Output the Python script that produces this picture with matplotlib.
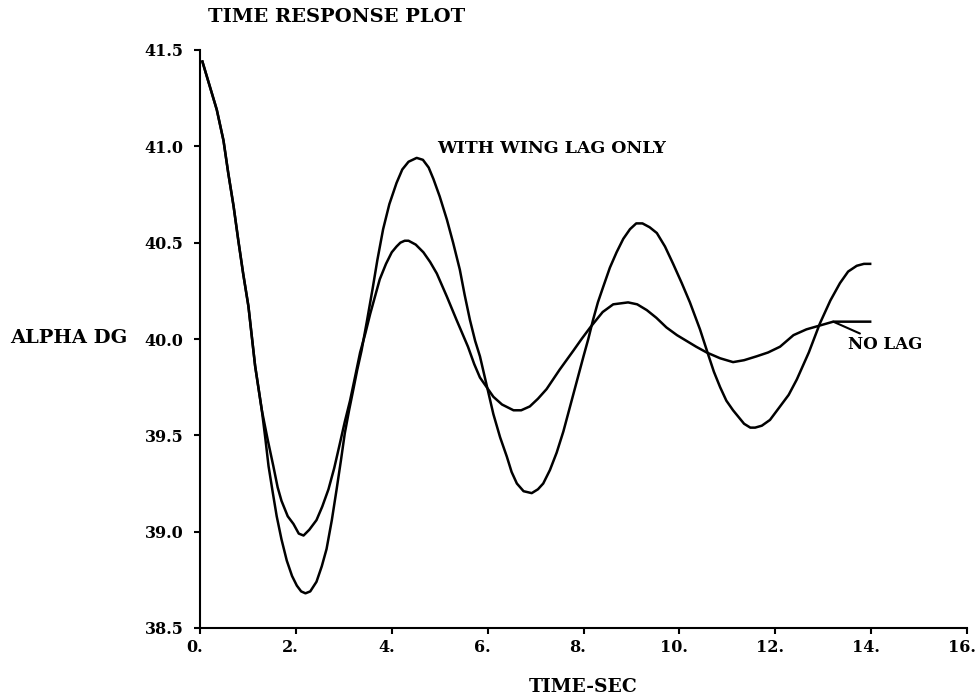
import matplotlib
matplotlib.use("Agg")
import matplotlib.pyplot as plt
import matplotlib.transforms as mtransforms

# angle of attack response, with wing lag only
wing_t = [0.05, 0.17, 0.35, 0.49, 0.59, 0.70, 0.80, 0.90, 1.01, 1.15, 1.29, 1.36,
          1.43, 1.52, 1.60, 1.70, 1.81, 1.92, 2.02, 2.11, 2.20, 2.30, 2.43, 2.54,
          2.64, 2.75, 2.85, 2.94, 3.02, 3.11, 3.20, 3.28, 3.37, 3.48, 3.60, 3.70,
          3.82, 3.95, 4.10, 4.22, 4.35, 4.52, 4.65, 4.77, 4.87, 5.00, 5.15, 5.28,
          5.42, 5.52, 5.63, 5.74, 5.84, 5.98, 6.12, 6.26, 6.40, 6.50, 6.61, 6.75,
          6.92, 7.05, 7.16, 7.30, 7.44, 7.58, 7.72, 7.86, 8.00, 8.10, 8.20, 8.30,
          8.41, 8.55, 8.69, 8.83, 8.97, 9.10, 9.23, 9.38, 9.53, 9.70, 9.87, 10.05,
          10.22, 10.43, 10.60, 10.72, 10.85, 10.98, 11.12, 11.35, 11.48, 11.58,
          11.72, 11.89, 12.10, 12.28, 12.45, 12.70, 12.93, 13.15, 13.35, 13.52,
          13.70, 13.85, 13.98]
wing_alpha = [41.44, 41.34, 41.19, 41.03, 40.86, 40.69, 40.51, 40.34, 40.17, 39.86,
              39.63, 39.49, 39.34, 39.20, 39.08, 38.96, 38.85, 38.77, 38.72, 38.69,
              38.68, 38.69, 38.74, 38.82, 38.91, 39.06, 39.22, 39.37, 39.51, 39.63,
              39.74, 39.84, 39.94, 40.09, 40.26, 40.41, 40.57, 40.70, 40.81, 40.88,
              40.92, 40.94, 40.93, 40.89, 40.83, 40.74, 40.62, 40.50, 40.36, 40.23,
              40.10, 39.99, 39.91, 39.76, 39.61, 39.49, 39.39, 39.31, 39.25, 39.21,
              39.20, 39.22, 39.25, 39.32, 39.41, 39.52, 39.65, 39.78, 39.91, 40.00,
              40.10, 40.19, 40.27, 40.37, 40.45, 40.52, 40.57, 40.60, 40.60, 40.58,
              40.55, 40.48, 40.39, 40.29, 40.19, 40.05, 39.92, 39.83, 39.75, 39.68,
              39.63, 39.56, 39.54, 39.54, 39.55, 39.58, 39.65, 39.71, 39.79, 39.93,
              40.08, 40.20, 40.29, 40.35, 40.38, 40.39, 40.39]

# angle of attack response, no lag
nolag_t = [0.05, 0.17, 0.35, 0.49, 0.59, 0.70, 0.80, 0.90, 1.01, 1.15, 1.29, 1.41,
           1.53, 1.62, 1.70, 1.83, 1.95, 2.06, 2.16, 2.28, 2.43, 2.55, 2.68, 2.80,
           2.92, 3.02, 3.13, 3.24, 3.34, 3.45, 3.55, 3.65, 3.75, 3.88, 4.00, 4.10,
           4.18, 4.27, 4.35, 4.50, 4.66, 4.80, 4.94, 5.15, 5.35, 5.47, 5.59, 5.72,
           5.84, 5.98, 6.12, 6.30, 6.54, 6.70, 6.88, 7.05, 7.23, 7.50, 7.79, 7.96,
           8.14, 8.40, 8.62, 8.93, 9.12, 9.32, 9.52, 9.73, 9.95, 10.15, 10.35, 10.57,
           10.85, 11.12, 11.35, 11.61, 11.85, 12.10, 12.38, 12.65, 12.93, 13.21,
           13.60, 13.98]
nolag_alpha = [41.44, 41.34, 41.19, 41.03, 40.86, 40.69, 40.51, 40.34, 40.17, 39.86,
               39.63, 39.48, 39.34, 39.23, 39.16, 39.08, 39.04, 38.99, 38.98, 39.01,
               39.06, 39.13, 39.22, 39.33, 39.46, 39.57, 39.68, 39.81, 39.93, 40.03,
               40.13, 40.22, 40.31, 40.39, 40.45, 40.48, 40.50, 40.51, 40.51, 40.49,
               40.45, 40.40, 40.34, 40.22, 40.10, 40.03, 39.96, 39.87, 39.80, 39.75,
               39.70, 39.66, 39.63, 39.63, 39.65, 39.69, 39.74, 39.84, 39.94, 40.00,
               40.06, 40.14, 40.18, 40.19, 40.18, 40.15, 40.11, 40.06, 40.02, 39.99,
               39.96, 39.93, 39.90, 39.88, 39.89, 39.91, 39.93, 39.96, 40.02, 40.05,
               40.07, 40.09, 40.09, 40.09]

x_ticks = [0, 2, 4, 6, 8, 10, 12, 14, 16]
x_labels = ["0.", "2.", "4.", "6.", "8.", "10.", "12.", "14.", "16."]
y_ticks = [38.5, 39.0, 39.5, 40.0, 40.5, 41.0, 41.5]
y_labels = ["38.5", "39.0", "39.5", "40.0", "40.5", "41.0", "41.5"]

plt.rcParams['font.family'] = 'DejaVu Serif'
plt.rcParams['font.weight'] = 'bold'

fig = plt.figure(figsize=(9.8, 7.0), dpi=100)
ax = fig.add_axes([200 / 980, 1 - 628 / 700, 767 / 980, 578 / 700])

ax.plot(wing_t, wing_alpha, color='black', lw=1.8, solid_joinstyle='round')
ax.plot(nolag_t, nolag_alpha, color='black', lw=1.8, solid_joinstyle='round')

ax.set_xlim(0, 16)
ax.set_ylim(38.5, 41.5)
ax.spines['top'].set_visible(False)
ax.spines['right'].set_visible(False)
for s in ('left', 'bottom'):
    ax.spines[s].set_linewidth(1.5)

ax.set_xticks(x_ticks)
ax.set_xticklabels(x_labels, fontsize=11.5, fontweight='bold')
ax.set_yticks(y_ticks)
ax.set_yticklabels(y_labels, fontsize=11.5, fontweight='bold')
ax.tick_params(axis='x', direction='out', length=4, width=1.5, pad=4)
ax.tick_params(axis='y', direction='out', length=4, width=1.5, pad=8)

# the numbers sit on the tick, the trailing dot hangs to the right
shift = mtransforms.ScaledTranslation(-4 / 72, 0, fig.dpi_scale_trans)
for lbl in ax.get_xticklabels():
    lbl.set_transform(lbl.get_transform() + shift)

ax.set_xlabel("TIME-SEC", fontsize=13.5, fontweight='bold', labelpad=16)

fig.text(208 / 980, 1 - 17 / 700, "TIME RESPONSE PLOT", fontsize=14,
         fontweight='bold', ha='left', va='center')
fig.text(10 / 980, 1 - 338 / 700, "ALPHA DG", fontsize=14,
         fontweight='bold', ha='left', va='center')

ax.text(4.94, 40.99, "WITH WING LAG ONLY", fontsize=12.5, fontweight='bold',
        ha='left', va='center')
ax.annotate("NO LAG", xy=(nolag_t[-3], nolag_alpha[-3]), xytext=(13.52, 39.97),
            fontsize=12, fontweight='bold', ha='left', va='center',
            arrowprops=dict(arrowstyle='-', color='black', lw=1.5,
                            shrinkA=0, shrinkB=0))

fig.savefig("out.png", dpi=100)
